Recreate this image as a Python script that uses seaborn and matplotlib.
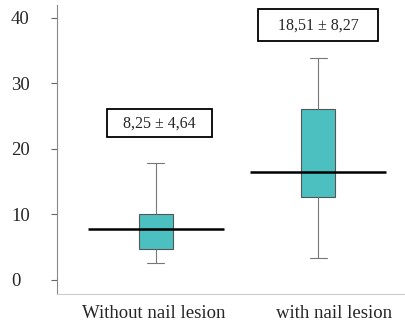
import numpy as np
import pandas as pd
import matplotlib.pyplot as plt
import seaborn as sns
from matplotlib.patches import Rectangle
from matplotlib.transforms import ScaledTranslation

# -----------------------------
# Values
# -----------------------------
groups = ["Without nail lesion", "with nail lesion"]
whisker_low = [2.6, 3.4]
q1 = [4.7, 12.7]
centre = [7.8, 16.5]
q3 = [10.1, 26.1]
whisker_high = [17.9, 33.9]
labels = ["8,25 \u00b1 4,64", "18,51 \u00b1 8,27"]

# five points per group, so the quartiles land exactly on the read values
rows = []
for g, lo, a, m, b, hi in zip(groups, whisker_low, q1, centre, q3, whisker_high):
    for v in (lo, a, m, b, hi):
        rows.append({"group": g, "value": v})
df = pd.DataFrame(rows)

# -----------------------------
# Plot
# -----------------------------
sns.set_style("white")
plt.rcParams["font.family"] = ["Liberation Serif", "DejaVu Serif"]

fig = plt.figure(figsize=(4.06, 3.24), dpi=100)
ax = fig.add_axes([0.140, 0.093, 0.858, 0.892])

sns.boxplot(
    data=df, x="group", y="value", order=groups,
    width=0.21, whis=(0, 100), color="#4cc0c1", saturation=1,
    linewidth=0.8, linecolor="#555555",
    whiskerprops={"color": "#777777", "linewidth": 0.8},
    capprops={"color": "#777777", "linewidth": 0.8},
    medianprops={"linewidth": 0},
    ax=ax,
)

# wide black line through each box
for i, m in enumerate(centre):
    ax.hlines(m, i - 0.42, i + 0.42, color="black", linewidth=1.8, zorder=5)

# boxed labels above each group
label_x = [0.02, 1.0]
label_y = [23.9, 38.9]
frame_w = [0.648, 0.74]
frame_h = [4.3, 4.9]
for txt, x, y, w, h in zip(labels, label_x, label_y, frame_w, frame_h):
    ax.add_patch(Rectangle((x - w / 2, y - h / 2), w, h, facecolor="white",
                           edgecolor="black", linewidth=1.3, zorder=6))
    ax.text(x, y, txt, ha="center", va="center", fontsize=11.5, zorder=7)

ax.set_xlim(-0.611, 1.537)
ax.set_ylim(-2.15, 42.0)
ax.set_yticks([0, 10, 20, 30, 40])
ax.set_xlabel("")
ax.set_ylabel("")

for s in ("top", "right"):
    ax.spines[s].set_visible(False)
ax.spines["left"].set_color("#888888")
ax.spines["left"].set_linewidth(0.8)
ax.spines["bottom"].set_color("#cccccc")
ax.spines["bottom"].set_linewidth(0.8)

ax.tick_params(axis="y", length=4, width=0.8, color="#666666",
               labelsize=13.5, pad=29, direction="out", left=True)
for lab in ax.get_yticklabels():
    lab.set_horizontalalignment("left")
ax.tick_params(axis="x", length=0, labelsize=13.5, pad=8)

# category labels sit slightly off their boxes in the original
shifts = [-2, 16]
for lab, dx in zip(ax.get_xticklabels(), shifts):
    lab.set_transform(lab.get_transform() + ScaledTranslation(dx / 100, 0, fig.dpi_scale_trans))

plt.savefig("out.png", dpi=100)
